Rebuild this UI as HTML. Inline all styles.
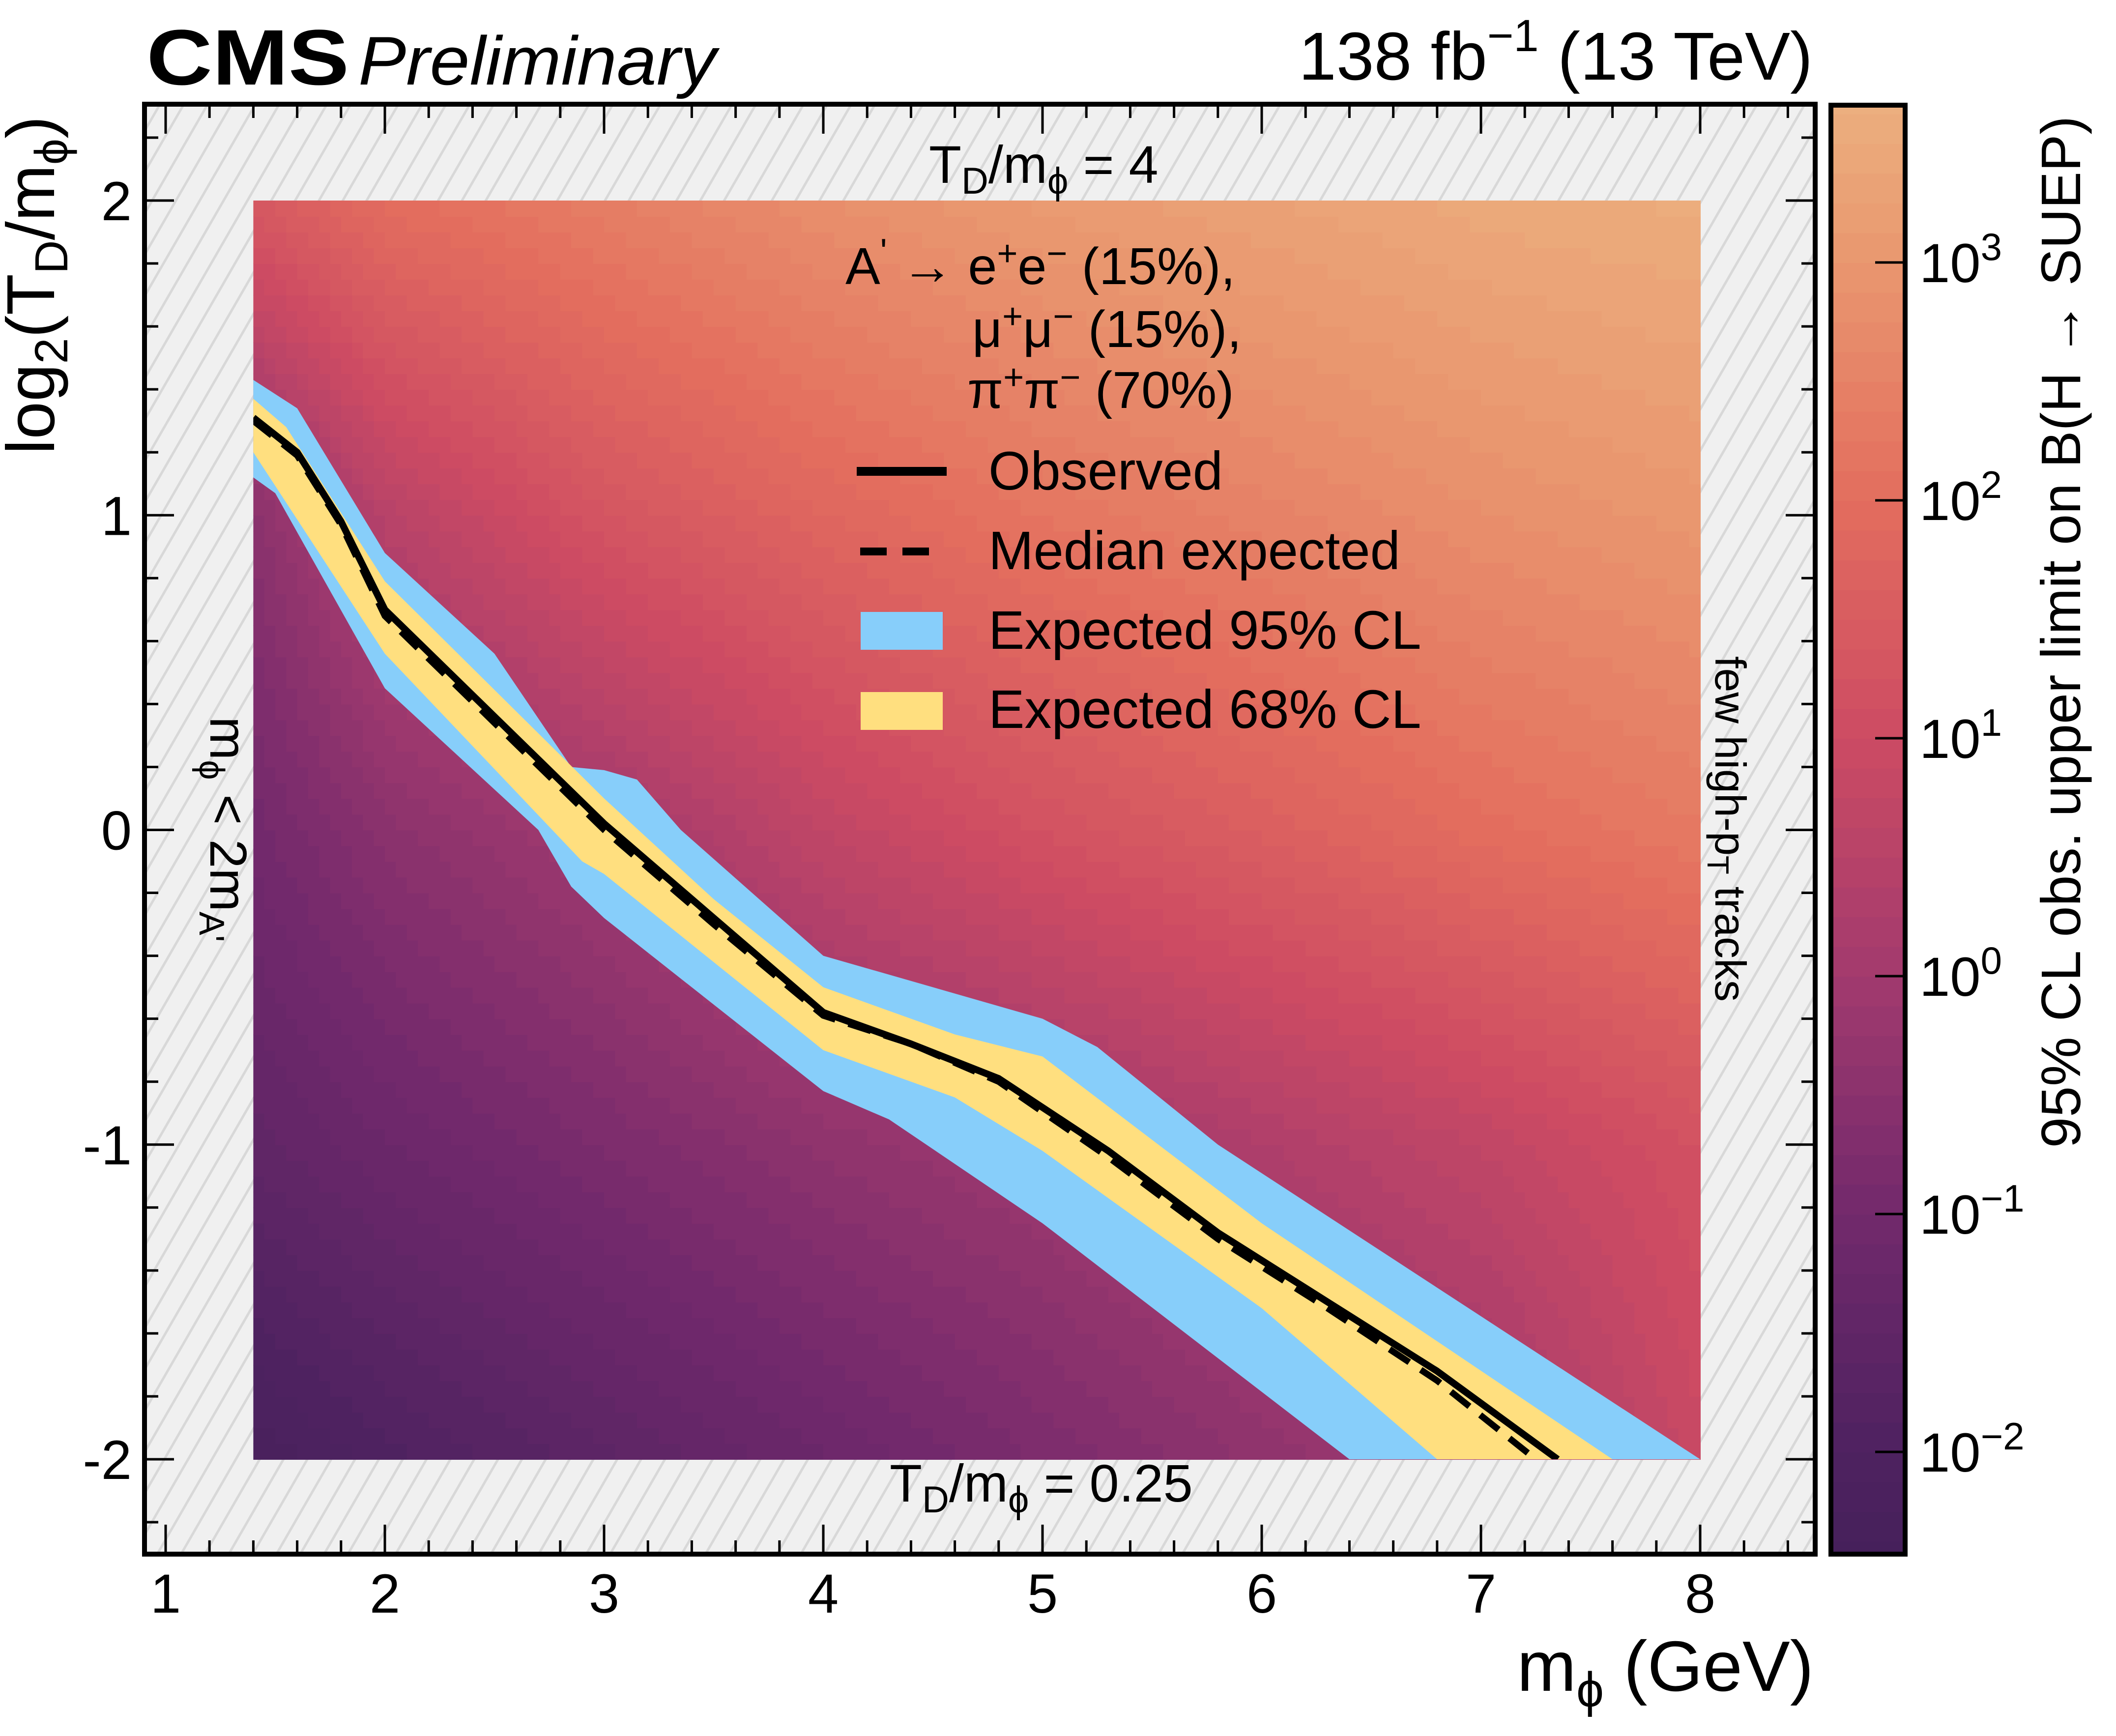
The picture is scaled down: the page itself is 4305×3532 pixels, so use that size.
<!DOCTYPE html>
<html><head><meta charset="utf-8"><style>
html,body{margin:0;padding:0;background:#fff}
svg{display:block;font-family:"Liberation Sans",sans-serif}
</style></head><body>
<svg id="chart" width="4305" height="3532" viewBox="0 0 4305 3532" xmlns="http://www.w3.org/2000/svg">
<defs>
<pattern id="hatch" patternUnits="userSpaceOnUse" width="42" height="42" patternTransform="rotate(30)">
<rect width="42" height="42" fill="#f0f0f0"/>
<line x1="10" y1="0" x2="10" y2="42" stroke="#d8d8d8" stroke-width="5"/>
</pattern>
<clipPath id="heatclip" clipPathUnits="userSpaceOnUse"><rect x="0" y="0" width="1" height="1" id="heatcliprect"/></clipPath>
<clipPath id="cbclip" clipPathUnits="userSpaceOnUse"><rect x="3725" y="214" width="151" height="2948"/></clipPath>
</defs>
<rect x="294" y="212" width="3399" height="2950" fill="url(#hatch)"/>
<g id="heat"></g>
<g id="bands" clip-path="url(#heatclip)"></g>
<g id="lines" clip-path="url(#heatclip)"></g>
<g id="ticks"></g>
<rect x="294" y="212" width="3399" height="2950" fill="none" stroke="#000" stroke-width="10"/>
<g id="cbar"><g id="cbarfill" clip-path="url(#cbclip)"></g></g>
<rect x="3725" y="214" width="151" height="2948" fill="none" stroke="#000" stroke-width="10"/>

<text x="298" y="172" font-size="160" font-weight="bold" transform="translate(298,0) scale(1.16,1) translate(-298,0)">CMS</text>
<text x="729" y="172" font-size="140" font-style="italic" transform="translate(729,0) scale(1.04,1) translate(-729,0)">Preliminary</text>
<text x="3688" y="162" font-size="138" text-anchor="end">138 fb<tspan font-size="92" dy="-58">−1</tspan><tspan dy="58"> (13 TeV)</tspan></text>

<text x="3690" y="3440" font-size="145" text-anchor="end">m<tspan font-size="100" dy="32">ϕ</tspan><tspan dy="-32"> (GeV)</tspan></text>
<text transform="translate(110,236) rotate(-90)" font-size="138" text-anchor="end">log<tspan font-size="95" dy="27">2</tspan><tspan dy="-27">(T</tspan><tspan font-size="95" dy="27">D</tspan><tspan dy="-27">/m</tspan><tspan font-size="95" dy="27">ϕ</tspan><tspan dy="-27">)</tspan></text>
<text transform="translate(4232,236) rotate(-90)" font-size="113" text-anchor="end">95% CL obs. upper limit on B(H  →  SUEP)</text>

<text x="1890" y="372" font-size="108">T<tspan font-size="76" dy="22">D</tspan><tspan dy="-22">/m</tspan><tspan font-size="76" dy="22">ϕ</tspan><tspan dy="-22"> = 4</tspan></text>
<text x="1810" y="3055" font-size="108">T<tspan font-size="76" dy="22">D</tspan><tspan dy="-22">/m</tspan><tspan font-size="76" dy="22">ϕ</tspan><tspan dy="-22"> = 0.25</tspan></text>
<text transform="translate(428,1458) rotate(90)" font-size="106">m<tspan font-size="72" dy="22">ϕ</tspan><tspan dy="-22"> &lt; 2m</tspan><tspan font-size="72" dy="22">A'</tspan></text>
<text transform="translate(3490,1335) rotate(90)" font-size="88">few high-p<tspan font-size="62" dy="16">T</tspan><tspan dy="-16"> tracks</tspan></text>

<g>
<text x="1720" y="578" font-size="106">A<tspan font-size="72" dy="-42">'</tspan><tspan dy="42"> → e</tspan><tspan font-size="72" dy="-38">+</tspan><tspan dy="38">e</tspan><tspan font-size="72" dy="-38">−</tspan><tspan dy="38"> (15%),</tspan></text>
<text x="1978" y="706" font-size="106">μ<tspan font-size="72" dy="-38">+</tspan><tspan dy="38">μ</tspan><tspan font-size="72" dy="-38">−</tspan><tspan dy="38"> (15%),</tspan></text>
<text x="1968" y="830" font-size="106">π<tspan font-size="72" dy="-38">+</tspan><tspan dy="38">π</tspan><tspan font-size="72" dy="-38">−</tspan><tspan dy="38"> (70%)</tspan></text>
<line x1="1743" y1="959" x2="1926" y2="959" stroke="#000" stroke-width="18"/>
<text x="2011" y="996" font-size="110">Observed</text>
<line x1="1750" y1="1122" x2="1920" y2="1122" stroke="#000" stroke-width="16" stroke-dasharray="54,32"/>
<text x="2011" y="1158" font-size="110">Median expected</text>
<rect x="1751" y="1245" width="167" height="77" fill="#87cefa"/>
<text x="2011" y="1320" font-size="110">Expected 95% CL</text>
<rect x="1751" y="1408" width="167" height="77" fill="#ffdf7f"/>
<text x="2011" y="1481" font-size="110">Expected 68% CL</text>
</g>
</svg>
<script>
// ---- data ----
const gridX = [1.4, 2, 3, 4, 5, 6, 7, 8];
const gridY = [2, 1, 0, -1, -2];
const zRow2 = [1.4, 2.0, 2.4, 2.8, 3.1, 3.3, 3.5, 3.6];
const zRow1 = [-0.5, 0.5, 1.3, 1.8, 2.2, 2.5, 2.8, 3.0];
const zRow0 = [-1.0, -0.5, 0.0, 0.7, 1.2, 1.6, 2.0, 2.3];
const zRowM1 = [-1.5, -1.2, -0.8, -0.4, -0.1, 0.3, 0.7, 1.2];
const zRowM2 = [-2.3, -2.0, -1.6, -1.2, -0.8, -0.4, -0.05, 0.9];
const obsX = [1.4, 1.6, 1.8, 2.0, 2.5, 3.0, 3.5, 4.0, 4.4, 4.8, 5.3, 5.8, 6.3, 6.8, 7.35];
const obsY = [1.31, 1.2, 0.98, 0.7, 0.36, 0.02, -0.28, -0.58, -0.68, -0.79, -1.02, -1.28, -1.5, -1.72, -2.0];
const expX = [1.4, 1.6, 1.8, 2.0, 2.5, 3.0, 3.5, 4.0, 4.4, 4.8, 5.3, 5.8, 6.3, 6.8, 7.25];
const expY = [1.3, 1.19, 0.97, 0.68, 0.34, 0.0, -0.3, -0.59, -0.68, -0.8, -1.04, -1.3, -1.52, -1.75, -2.0];
const up95X = [1.4, 1.6, 2.0, 2.5, 2.85, 3.0, 3.15, 3.35, 4.0, 5.0, 5.25, 5.8, 8.0];
const up95Y = [1.43, 1.34, 0.88, 0.56, 0.2, 0.19, 0.16, 0.0, -0.4, -0.6, -0.69, -1.0, -2.0];
const lo95X = [1.4, 1.5, 2.0, 2.7, 2.85, 3.0, 4.0, 4.3, 5.0, 6.4];
const lo95Y = [1.12, 1.07, 0.45, 0.0, -0.18, -0.28, -0.83, -0.92, -1.25, -2.0];
const up68X = [1.4, 1.55, 2.0, 3.0, 3.5, 4.0, 4.6, 5.0, 6.0, 7.6];
const up68Y = [1.37, 1.28, 0.79, 0.1, -0.22, -0.5, -0.65, -0.72, -1.25, -2.0];
const lo68X = [1.4, 2.0, 2.9, 3.0, 4.0, 4.6, 5.0, 6.0, 6.8];
const lo68Y = [1.2, 0.56, -0.1, -0.14, -0.7, -0.85, -1.02, -1.52, -2.0];
const xTickLabels = ["1", "2", "3", "4", "5", "6", "7", "8"];
const yTickLabels = ["-2", "-1", "0", "1", "2"];
const cbarTickLabels = ["−2", "−1", "0", "1", "2", "3"];

// ---- axes ----
const X = v => 337 + 446 * (v - 1);
const Y = v => 408 + (2 - v) * 640.25;
const CB = z => 534 + (3 - z) * 484;
const NS = "http://www.w3.org/2000/svg";
function mk(tag, attrs, parent) {
  const e = document.createElementNS(NS, tag);
  for (const k in attrs) e.setAttribute(k, attrs[k]);
  parent.appendChild(e); return e;
}
const stops = [[-2.5, [69, 32, 90]], [-2, [78, 34, 96]], [-1, [114, 41, 108]], [0, [162, 58, 110]], [1, [205, 75, 99]], [2, [227, 109, 94]], [3, [233, 151, 111]], [3.7, [236, 176, 127]]];
function color(z) {
  z = Math.max(-2.5, Math.min(3.7, z));
  for (let i = 0; i < stops.length - 1; i++) {
    const [a, ca] = stops[i], [b, cb] = stops[i + 1];
    if (z <= b) { const t = (z - a) / (b - a); return "rgb(" + ca.map((c, j) => Math.round(c + (cb[j] - c) * t)).join(",") + ")"; }
  }
  return "rgb(236,176,127)";
}
const zRows = [zRow2, zRow1, zRow0, zRowM1, zRowM2];
function interp1(xs, ys, x) {
  for (let i = 0; i < xs.length - 1; i++) {
    if (x <= xs[i + 1]) { const t = (x - xs[i]) / (xs[i + 1] - xs[i]); return ys[i] + (ys[i + 1] - ys[i]) * t; }
  }
  return ys[ys.length - 1];
}
function zAt(x, y) {
  const col = zRows.map(r => interp1(gridX, r, x));
  return interp1(gridY.slice().reverse(), col.slice().reverse(), y);
}
// heatmap
const heat = document.getElementById("heat");
const x0 = gridX[0], x1 = gridX[gridX.length - 1], y0 = gridY[gridY.length - 1], y1 = gridY[0];
const cr = document.getElementById("heatcliprect");
cr.setAttribute("x", X(x0)); cr.setAttribute("y", Y(y1));
cr.setAttribute("width", X(x1) - X(x0)); cr.setAttribute("height", Y(y0) - Y(y1));
const nx = 132, ny = 80;
for (let i = 0; i < nx; i++) {
  for (let j = 0; j < ny; j++) {
    const xa = x0 + (x1 - x0) * i / nx, xb = x0 + (x1 - x0) * (i + 1) / nx;
    const ya = y0 + (y1 - y0) * j / ny, yb = y0 + (y1 - y0) * (j + 1) / ny;
    const z = Math.round(zAt((xa + xb) / 2, (ya + yb) / 2) * 8) / 8;
    const r = mk("rect", { x: X(xa), y: Y(yb), width: X(xb) - X(xa) + 1, height: Y(ya) - Y(yb) + 1, fill: color(z) }, heat);
    
    
  }
}
// bands
const bands = document.getElementById("bands");
function bandPath(ux, uy, lx, ly) {
  let pts = ux.map((v, i) => X(v) + "," + Y(uy[i]));
  if (ux[ux.length - 1] > lx[lx.length - 1]) pts.push(X(ux[ux.length - 1]) + "," + Y(-2.5));
  for (let i = lx.length - 1; i >= 0; i--) pts.push(X(lx[i]) + "," + Y(ly[i]));
  pts.push(X(lx[0] - 0.2) + "," + Y(ly[0])); pts.push(X(ux[0] - 0.2) + "," + Y(uy[0]));
  return pts.join(" ");
}
const b95 = mk("polygon", { points: bandPath(up95X, up95Y, lo95X, lo95Y), fill: "#87cefa" }, bands);


const b68 = mk("polygon", { points: bandPath(up68X, up68Y, lo68X, lo68Y), fill: "#ffdf7f" }, bands);


const lines = document.getElementById("lines");
const ex = mk("polyline", { points: expX.map((v, i) => X(v) + "," + Y(expY[i])).join(" "), fill: "none", stroke: "#000", "stroke-width": 13, "stroke-dasharray": "48,28" }, lines);


const ob = mk("polyline", { points: obsX.map((v, i) => X(v) + "," + Y(obsY[i])).join(" "), fill: "none", stroke: "#000", "stroke-width": 14, "stroke-linejoin": "round" }, lines);


// ticks
const tg = document.getElementById("ticks");
const L = 294, R = 3693, T = 212, B = 3162;
for (let k = 0; k <= 40; k++) {
  const v = 1 + k * 0.2; const px = X(v); if (px < L + 5 || px > R - 5) continue;
  const major = k % 5 === 0; const len = major ? 60 : 28;
  mk("line", { x1: px, y1: B, x2: px, y2: B - len, stroke: "#000", "stroke-width": 5 }, tg);
  mk("line", { x1: px, y1: T, x2: px, y2: T + len, stroke: "#000", "stroke-width": 5 }, tg);
}
xTickLabels.forEach((s, i) => {
  const t = mk("text", { x: X(i + 1), y: 3281, "font-size": 112, "text-anchor": "middle" }, tg); t.textContent = s;
  
  
});
for (let k = -11; k <= 11; k++) {
  const v = k * 0.2; const py = Y(v);
  const major = k % 5 === 0; const len = major ? 60 : 28;
  mk("line", { x1: L, y1: py, x2: L + len, y2: py, stroke: "#000", "stroke-width": 5 }, tg);
  mk("line", { x1: R, y1: py, x2: R - len, y2: py, stroke: "#000", "stroke-width": 5 }, tg);
}
yTickLabels.forEach((s, i) => {
  const t = mk("text", { x: 268, y: Y(i - 2) + 40, "font-size": 112, "text-anchor": "end" }, tg); t.textContent = s;
  
  
});
// colorbar
const cb = document.getElementById("cbar");
const cbf = document.getElementById("cbarfill");
for (let z = -2.5; z < 3.75; z += 0.125) {
  const r = mk("rect", { x: 3725, y: CB(z + 0.125), width: 151, height: CB(z) - CB(z + 0.125) + 1, fill: color(z + 0.06) }, cbf);
  
  
}
cbarTickLabels.forEach((s, i) => {
  const z = i - 2;
  mk("line", { x1: 3876, y1: CB(z), x2: 3815, y2: CB(z), stroke: "#000", "stroke-width": 5 }, cb);
  const t = mk("text", { x: 3905, y: CB(z) + 40, "font-size": 112 }, cb);
  
  
  t.textContent = "10";
  const sp = mk("tspan", { "font-size": 78, dy: -45 }, t); sp.textContent = s;
});
</script>
</body></html>
